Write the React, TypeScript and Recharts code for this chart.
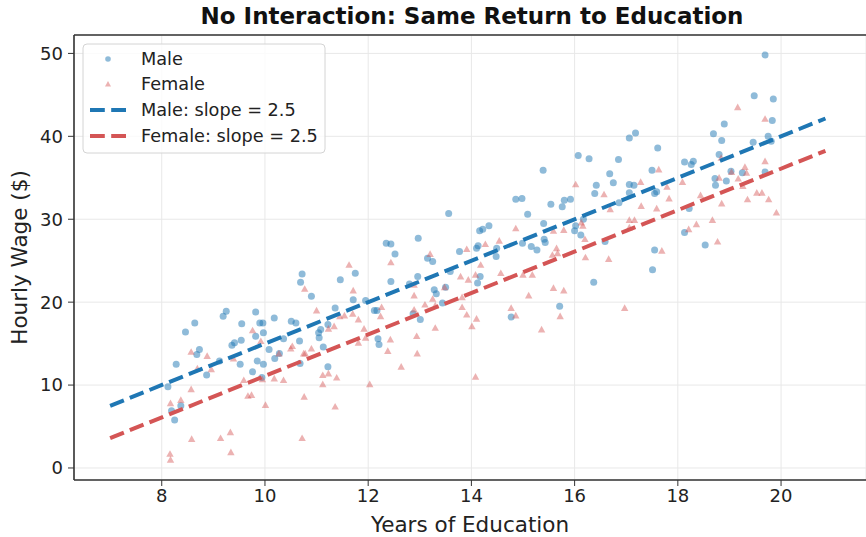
import React from "react";
import { ScatterChart, Scatter, XAxis, YAxis, CartesianGrid, ReferenceLine } from "recharts";

const FONT = "'DejaVu Sans', sans-serif";

const maleX = [
  8.12, 8.19, 8.25, 8.37, 8.28, 8.46, 8.64, 8.73, 8.68, 8.87, 9.12, 9.19, 9.25, 9.36, 9.41, 9.54, 9.52, 9.55, 9.82, 9.82,
  9.85, 9.76, 9.9, 9.96, 9.97, 9.97, 9.94, 10.08, 10.18, 10.19,
  10.28, 10.36, 10.51, 10.6, 10.67, 10.69, 10.72, 10.9, 10.68, 11.04, 11.08, 11.05, 11.22, 11.13, 11.22, 11.36, 11.46, 11.75,
  11.71, 11.95, 12.12, 12.17, 12.19, 12.21, 12.35, 12.44, 12.52, 12.44, 12.8, 12.97, 12.96, 13.15, 13.25, 13.28, 12.87, 13.01,
  13.32, 13.5, 13.44, 13.56, 13.59, 13.77, 14.1, 14.13, 14.12, 14.17, 14.16, 14.22, 14.34, 14.49, 14.48, 14.77, 14.86, 14.98,
  15.09, 14.99, 15.16, 15.27, 15.39, 15.4, 15.41, 15.43, 15.54, 15.71, 15.76, 15.8, 15.92, 16.0, 16.02, 16.12, 16.07, 16.28,
  16.39, 16.42, 16.37,
  16.17, 16.59, 16.68, 16.75, 16.85, 16.86, 17.06, 17.15, 17.06, 17.18, 17.06, 17.5, 17.61, 17.55, 17.59, 17.55, 17.51, 18.13,
  18.26, 18.3, 18.13, 18.22, 18.53, 18.69, 18.9, 18.85, 18.8, 18.72, 18.73, 18.94,
  19.03, 19.25, 19.48, 19.69, 19.85, 19.83, 19.75, 19.81, 19.46, 19.69,
];
const maleY = [
  9.8, 6.9, 5.8, 7.5, 12.5, 16.4, 17.5, 14.3, 13.7, 11.2, 12.9, 18.3, 18.9, 14.8, 15.1, 15.4, 12.5, 17.4, 18.8, 15.9,
  12.9, 11.6, 17.5, 17.5, 16.3, 12.5, 10.9, 14.3, 18.1, 13.2,
  13.8, 15.6, 17.7, 17.5, 15.3, 22.4, 23.4, 20.7, 12.6, 16.3, 16.7, 15.7, 17.3, 14.6, 12.2, 19.3, 22.7, 23.5,
  20.3, 20.2, 19.0, 19.0, 15.6, 14.9, 27.1, 27.0, 25.8, 22.5, 22.2, 27.7, 23.1, 25.3, 24.9, 21.5, 18.6, 17.9,
  21.0, 21.8, 19.9, 30.7, 23.7, 26.1, 26.5, 26.8, 22.3, 23.1, 28.6, 28.8, 29.2, 26.5, 25.5, 18.2, 32.4, 32.5,
  30.6, 27.1, 26.7, 26.3, 35.9, 29.5, 27.6, 27.2, 31.8, 19.5, 31.5, 32.3, 32.4, 28.6, 29.2, 28.1, 37.7, 37.3,
  33.1, 34.1, 22.4,
  30.0, 27.3, 35.5, 34.4, 37.2, 32.0, 34.2, 34.1, 39.8, 40.4, 33.2, 35.9, 38.6, 33.1, 33.3, 26.3, 23.9, 36.9,
  36.6, 37.0, 28.4, 31.3, 26.9, 40.3, 41.5, 39.5, 37.8, 34.9, 34.1, 34.6,
  35.8, 35.6, 44.9, 49.8, 44.5, 41.9, 40.0, 39.4, 39.3, 35.7,
];

const femaleX = [
  8.16, 8.17, 8.17, 8.37, 8.57, 8.57, 8.58, 8.88, 8.96, 8.69, 9.14, 9.33, 9.34, 9.39, 9.59, 9.67, 9.74, 9.76, 9.92, 9.95,
  10.01, 10.18, 10.27,
  10.36, 10.5, 10.53, 10.75, 10.78, 10.77, 10.76, 10.9, 11.0, 11.12, 11.12, 11.23, 11.23, 11.34, 11.39, 11.36, 11.45, 11.54,
  11.63, 11.71, 11.7, 11.81, 11.92, 11.95, 11.81, 12.03, 12.24, 12.26, 12.44, 12.43, 12.38, 12.64, 12.89, 12.89, 12.89, 12.94,
  12.95, 13.1, 13.2, 13.25, 13.3, 13.3, 10.72,
  13.48, 13.79, 13.82, 13.82, 13.91, 13.94, 13.91, 14.01, 14.08, 14.1, 14.18, 14.27, 14.54, 14.57, 14.77, 14.86, 14.86, 15.0,
  15.11, 15.18, 15.36, 15.59, 15.59, 15.65, 15.67, 15.57, 15.72, 15.79, 15.79, 16.02, 16.13, 16.16, 16.2, 16.21, 14.08,
  16.57, 16.69, 16.66, 17.28, 17.29, 17.06, 17.16, 17.06, 17.63, 17.79, 17.83, 17.59, 17.69, 18.09, 18.21, 18.36, 18.44, 18.67,
  18.77, 18.84, 18.8, 18.85, 16.97,
  19.16, 19.69, 19.69, 19.3, 19.33, 19.17, 19.26, 19.35, 19.53, 19.63, 19.76, 19.91, 19.04,
];
const femaleY = [
  1.7, 1.0, 7.8, 8.2, 14.0, 9.5, 3.5, 13.5, 11.9, 12.0, 3.6, 4.3, 1.9, 13.2, 10.6, 8.7, 8.8, 16.6, 15.3, 10.7,
  7.6, 10.8, 13.8,
  10.6, 14.4, 14.7, 13.8, 13.8, 21.6, 8.6, 14.4, 19.0, 11.2, 10.1, 11.4, 16.8, 17.1, 10.9, 7.4, 18.3, 18.4,
  24.5, 21.4, 18.6, 17.9, 16.8, 15.7, 15.1, 10.1, 18.3, 19.4, 24.8, 15.5, 14.1, 12.2, 22.1, 20.8, 19.1, 15.9,
  13.8, 19.7, 25.8, 20.4, 19.6, 16.9, 3.6,
  21.8, 23.1, 20.6, 19.4, 26.4, 22.7, 18.5, 17.1, 23.3, 18.0, 24.5, 27.0, 27.4, 23.5, 19.3, 18.4, 28.9, 23.3,
  20.8, 23.3, 16.7, 21.7, 28.6, 26.5, 25.9, 25.7, 18.3, 28.7, 21.4, 34.2, 29.6, 29.2, 27.6, 25.4, 11.0,
  33.0, 31.2, 25.2, 34.5, 31.6, 29.9, 29.9, 29.0, 36.0, 33.9, 32.5, 31.3, 26.2, 34.5, 28.8, 29.4, 32.9, 29.9,
  27.3, 37.4, 35.0, 31.9, 19.3,
  43.5, 42.1, 37.0, 36.3, 35.6, 34.9, 34.0, 32.4, 33.2, 33.2, 32.4, 30.8, 35.7,
];

// fitted lines (both slope 2.5)
const lineX = [7, 20.86];
const maleLineY = [7.5, 42.15];
const femaleLineY = [3.6, 38.25];

const xTicks = [8, 10, 12, 14, 16, 18, 20];
const yTicks = [0, 10, 20, 30, 40, 50];
const xDomain = [6.3, 21.646];
const yDomain = [-1.45, 52.22];

const MALE = "#1f77b4";
const FEMALE = "#d45555";
const DASH = "14.8 6.4";

const maleData = maleX.map((x, i) => ({ x, y: maleY[i] }));
const femaleData = femaleX.map((x, i) => ({ x, y: femaleY[i] }));
const maleLine = lineX.map((x, i) => ({ x, y: maleLineY[i] }));
const femaleLine = lineX.map((x, i) => ({ x, y: femaleLineY[i] }));

const Dot = (props: any) => (
  <circle cx={props.cx} cy={props.cy} r={3.5} fill={MALE} fillOpacity={0.5} />
);

const Tri = (props: any) => {
  const { cx, cy } = props;
  const s = 3.7;
  return (
    <polygon
      points={`${cx},${cy - s} ${cx - s},${cy + s * 0.8} ${cx + s},${cy + s * 0.8}`}
      fill={FEMALE}
      fillOpacity={0.45}
    />
  );
};

const Nothing = () => <g />;

const tickStyle = { fill: "#222", fontSize: 18, fontFamily: FONT };
const axisStyle = { stroke: "#333", strokeWidth: 1.6 };

function LegendBox() {
  const rows = [60, 85, 111, 137].map((y) => y - 44);
  return (
    <svg
      width={244}
      height={111}
      style={{ position: "absolute", left: 82, top: 43 }}
    >
      <rect x={1} y={1} width={242} height={109} rx={4} fill="#fff" fillOpacity={0.8} stroke="#d4d4d4" />
      <circle cx={26} cy={rows[0]} r={2.8} fill={MALE} fillOpacity={0.5} />
      <polygon points={`26,${rows[1] - 3} 23,${rows[1] + 2.4} 29,${rows[1] + 2.4}`} fill={FEMALE} fillOpacity={0.45} />
      <line x1={8} x2={44} y1={rows[2]} y2={rows[2]} stroke={MALE} strokeWidth={4} strokeDasharray={DASH} />
      <line x1={8} x2={44} y1={rows[3]} y2={rows[3]} stroke={FEMALE} strokeWidth={4} strokeDasharray={DASH} />
      {["Male", "Female", "Male: slope = 2.5", "Female: slope = 2.5"].map((t, i) => (
        <text key={t} x={59} y={rows[i]} dy="0.36em" fontSize={17.7} fontFamily={FONT} fill="#222">
          {t}
        </text>
      ))}
    </svg>
  );
}

export default function App() {
  return (
    <div style={{ position: "absolute", left: 0, top: 0, width: 866, height: 537, overflow: "hidden", background: "#fff" }}>
      <div
        style={{
          position: "absolute",
          left: 0,
          width: 944,
          top: 2,
          textAlign: "center",
          fontFamily: FONT,
          fontWeight: "bold",
          fontSize: 23,
          lineHeight: "28px",
          color: "#111",
        }}
      >
        No Interaction: Same Return to Education
      </div>
      <ScatterChart width={866} height={537} margin={{ top: 35, right: 0, bottom: 0, left: 0 }}>
        <CartesianGrid stroke="#e8e8e8" strokeWidth={1} />
        <XAxis
          type="number"
          dataKey="x"
          domain={xDomain}
          ticks={xTicks}
          allowDataOverflow
          height={57}
          tickSize={6}
          tickMargin={3}
          axisLine={axisStyle}
          tickLine={{ stroke: "#333" }}
          tick={tickStyle}
          label={{
            value: "Years of Education",
            position: "insideBottom",
            offset: 5,
            fontSize: 21.5,
            fontFamily: FONT,
            fill: "#222",
          }}
        />
        <YAxis
          type="number"
          dataKey="y"
          domain={yDomain}
          ticks={yTicks}
          allowDataOverflow
          width={74}
          tickSize={6}
          tickMargin={5}
          axisLine={axisStyle}
          tickLine={{ stroke: "#333" }}
          tick={tickStyle}
          label={{
            content: (p: any) => {
              const vb = p.viewBox || { x: 0, y: 35, height: 445 };
              const cx = vb.x + 19;
              const cy = vb.y + vb.height / 2;
              return (
                <text
                  x={cx}
                  y={cy}
                  transform={`rotate(-90 ${cx} ${cy})`}
                  textAnchor="middle"
                  dominantBaseline="central"
                  fontSize={21.5}
                  fontFamily={FONT}
                  fill="#222"
                >
                  Hourly Wage ($)
                </text>
              );
            },
          }}
        />
        <ReferenceLine y={yDomain[1]} stroke="#333" strokeWidth={1.6} />
        <Scatter data={maleData} shape={Dot} isAnimationActive={false} />
        <Scatter data={femaleData} shape={Tri} isAnimationActive={false} />
        <Scatter
          data={maleLine}
          shape={Nothing}
          line={{ stroke: MALE, strokeWidth: 4, strokeDasharray: DASH }}
          isAnimationActive={false}
        />
        <Scatter
          data={femaleLine}
          shape={Nothing}
          line={{ stroke: FEMALE, strokeWidth: 4, strokeDasharray: DASH }}
          isAnimationActive={false}
        />
      </ScatterChart>
      <LegendBox />
    </div>
  );
}
